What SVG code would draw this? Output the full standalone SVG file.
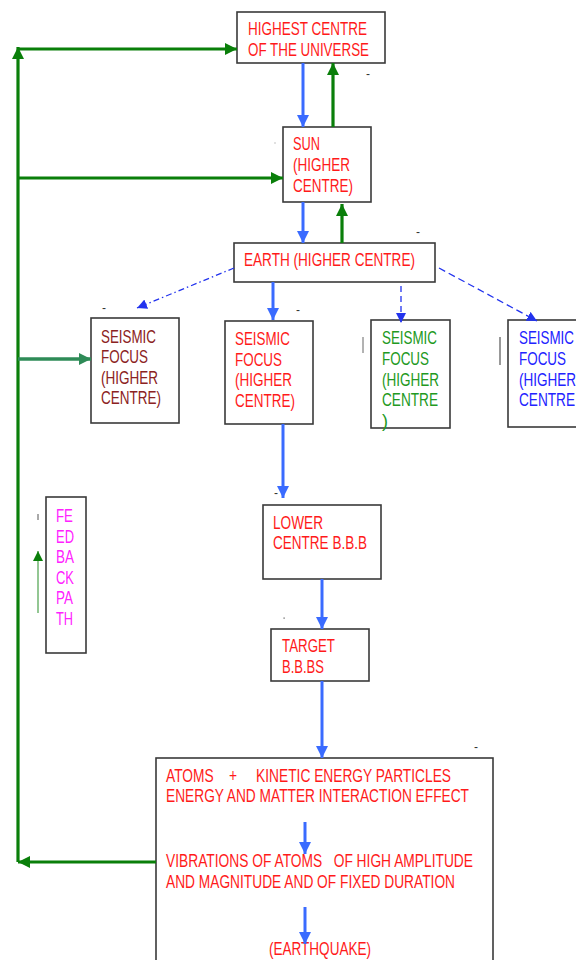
<svg xmlns="http://www.w3.org/2000/svg" width="576" height="960" viewBox="0 0 576 960">
<style>
.box{fill:#fff;stroke:#3a3a3a;stroke-width:1.6}
text{font-family:"Liberation Sans",Arial,sans-serif;font-size:18px;white-space:pre}
.red{fill:#ff1a1a}
.brown{fill:#8b2222}
.grn{fill:#229922}
.blu{fill:#2222ff}
.mag{fill:#ff22ff}
.mark{fill:#333;font-size:12px}
.gA{stroke:#0a7f0a;stroke-width:3.2;fill:none}
.bA{stroke:#3a6bff;stroke-width:3;fill:none}
.thinB{stroke:#2233ee;stroke-width:1.3;fill:none}
</style>
<defs>
<marker id="hg" markerUnits="userSpaceOnUse" viewBox="0 0 12 12" refX="12" refY="6" markerWidth="12" markerHeight="12" orient="auto"><path d="M0,0 L12,6 L0,12 z" fill="#0a7f0a"/></marker>
<marker id="hs" markerUnits="userSpaceOnUse" viewBox="0 0 12 12" refX="12" refY="6" markerWidth="12" markerHeight="12" orient="auto"><path d="M0,0 L12,6 L0,12 z" fill="#2e8b57"/></marker>
<marker id="hb" markerUnits="userSpaceOnUse" viewBox="0 0 12 12" refX="12" refY="6" markerWidth="12" markerHeight="12" orient="auto"><path d="M0,0 L12,6 L0,12 z" fill="#3a6bff"/></marker>
<marker id="ht" markerUnits="userSpaceOnUse" viewBox="0 0 10 10" refX="10" refY="5" markerWidth="10" markerHeight="10" orient="auto"><path d="M0,0 L10,5 L0,10 z" fill="#2233ee"/></marker>
<marker id="hf" markerUnits="userSpaceOnUse" viewBox="0 0 10 10" refX="10" refY="5" markerWidth="10" markerHeight="10" orient="auto"><path d="M0,0 L10,5 L0,10 z" fill="#0a7f0a"/></marker>
</defs>

<g id="highest">
<rect class="box" x="237" y="12" width="148" height="51"/>
<text class="red" x="248" y="35" textLength="119" lengthAdjust="spacingAndGlyphs">HIGHEST CENTRE</text>
<text class="red" x="248" y="56" textLength="121" lengthAdjust="spacingAndGlyphs">OF THE UNIVERSE</text>
</g>

<g id="sun">
<rect class="box" x="283" y="127" width="88" height="75"/>
<text class="red" x="293" y="150" textLength="27" lengthAdjust="spacingAndGlyphs">SUN</text>
<text class="red" x="293" y="171" textLength="57" lengthAdjust="spacingAndGlyphs">(HIGHER</text>
<text class="red" x="293" y="192" textLength="60" lengthAdjust="spacingAndGlyphs">CENTRE)</text>
</g>

<g id="earth">
<rect class="box" x="234" y="243" width="201" height="39"/>
<text class="red" x="244" y="266" textLength="171" lengthAdjust="spacingAndGlyphs">EARTH (HIGHER CENTRE)</text>
</g>

<g id="seismic1">
<rect class="box" x="91" y="318" width="88" height="105"/>
<text class="brown" x="101" y="343" textLength="55" lengthAdjust="spacingAndGlyphs">SEISMIC</text>
<text class="brown" x="101" y="363" textLength="47" lengthAdjust="spacingAndGlyphs">FOCUS</text>
<text class="brown" x="101" y="384" textLength="57" lengthAdjust="spacingAndGlyphs">(HIGHER</text>
<text class="brown" x="101" y="404" textLength="60" lengthAdjust="spacingAndGlyphs">CENTRE)</text>
</g>

<g id="seismic2">
<rect class="box" x="225" y="321" width="88" height="103"/>
<text class="red" x="235" y="345" textLength="55" lengthAdjust="spacingAndGlyphs">SEISMIC</text>
<text class="red" x="235" y="366" textLength="47" lengthAdjust="spacingAndGlyphs">FOCUS</text>
<text class="red" x="235" y="386" textLength="57" lengthAdjust="spacingAndGlyphs">(HIGHER</text>
<text class="red" x="235" y="407" textLength="60" lengthAdjust="spacingAndGlyphs">CENTRE)</text>
</g>

<g id="seismic3">
<rect class="box" x="371" y="320" width="79" height="108"/>
<text class="grn" x="382" y="344" textLength="55" lengthAdjust="spacingAndGlyphs">SEISMIC</text>
<text class="grn" x="382" y="365" textLength="47" lengthAdjust="spacingAndGlyphs">FOCUS</text>
<text class="grn" x="382" y="386" textLength="57" lengthAdjust="spacingAndGlyphs">(HIGHER</text>
<text class="grn" x="382" y="406" textLength="56" lengthAdjust="spacingAndGlyphs">CENTRE</text>
<text class="grn" x="382" y="427">)</text>
</g>

<g id="seismic4">
<rect class="box" x="508" y="320" width="90" height="107"/>
<text class="blu" x="519" y="344" textLength="55" lengthAdjust="spacingAndGlyphs">SEISMIC</text>
<text class="blu" x="519" y="365" textLength="47" lengthAdjust="spacingAndGlyphs">FOCUS</text>
<text class="blu" x="519" y="386" textLength="57" lengthAdjust="spacingAndGlyphs">(HIGHER</text>
<text class="blu" x="519" y="406" textLength="56" lengthAdjust="spacingAndGlyphs">CENTRE</text>
</g>

<g id="feedback">
<rect class="box" x="46" y="497" width="40" height="156"/>
<text class="mag" x="56" y="522" textLength="17" lengthAdjust="spacingAndGlyphs">FE</text>
<text class="mag" x="56" y="543" textLength="18" lengthAdjust="spacingAndGlyphs">ED</text>
<text class="mag" x="56" y="563" textLength="18" lengthAdjust="spacingAndGlyphs">BA</text>
<text class="mag" x="56" y="584" textLength="18" lengthAdjust="spacingAndGlyphs">CK</text>
<text class="mag" x="56" y="604" textLength="17" lengthAdjust="spacingAndGlyphs">PA</text>
<text class="mag" x="56" y="625" textLength="17" lengthAdjust="spacingAndGlyphs">TH</text>
</g>

<g id="lower">
<rect class="box" x="263" y="505" width="118" height="74"/>
<text class="red" x="273" y="529" textLength="50" lengthAdjust="spacingAndGlyphs">LOWER</text>
<text class="red" x="273" y="549" textLength="94" lengthAdjust="spacingAndGlyphs">CENTRE B.B.B</text>
</g>

<g id="target">
<rect class="box" x="271" y="629" width="98" height="52"/>
<text class="red" x="282" y="652" textLength="53" lengthAdjust="spacingAndGlyphs">TARGET</text>
<text class="red" x="282" y="673" textLength="42" lengthAdjust="spacingAndGlyphs">B.B.BS</text>
</g>

<g id="atoms">
<rect class="box" x="156" y="758" width="337" height="215"/>
<text class="red" x="166" y="782" textLength="285" lengthAdjust="spacingAndGlyphs">ATOMS    +     KINETIC ENERGY PARTICLES</text>
<text class="red" x="166" y="802" textLength="303" lengthAdjust="spacingAndGlyphs">ENERGY AND MATTER INTERACTION EFFECT</text>
<text class="red" x="166" y="867" textLength="307" lengthAdjust="spacingAndGlyphs">VIBRATIONS OF ATOMS   OF HIGH AMPLITUDE</text>
<text class="red" x="166" y="888" textLength="289" lengthAdjust="spacingAndGlyphs">AND MAGNITUDE AND OF FIXED DURATION</text>
<text class="red" x="269" y="955" textLength="102" lengthAdjust="spacingAndGlyphs">(EARTHQUAKE)</text>
</g>

<g id="connectors">
<path class="gA" d="M156,862 L18,862" marker-end="url(#hg)"/>
<path class="gA" d="M18,862 L18,47" marker-end="url(#hg)"/>
<path class="gA" d="M18,49 L237,49" marker-end="url(#hg)"/>
<path class="gA" d="M18,178 L283,178" marker-end="url(#hg)"/>
<path d="M18,359 L91,359" stroke="#2e8b57" stroke-width="3.6" fill="none" marker-end="url(#hs)"/>
<path class="bA" d="M303,63 L303,127" marker-end="url(#hb)"/>
<path class="gA" d="M333,127 L333,63" marker-end="url(#hg)"/>
<path class="bA" d="M303,202 L303,243" marker-end="url(#hb)"/>
<path class="gA" d="M342,243 L342,204" marker-end="url(#hg)"/>
<path class="bA" d="M273,282 L273,320" marker-end="url(#hb)"/>
<path class="thinB" d="M234,268 L137,308" stroke-dasharray="6 3 1.5 3" marker-end="url(#ht)"/>
<path class="thinB" d="M401,286 L401,323" stroke-dasharray="6 4" marker-end="url(#ht)"/>
<path class="thinB" d="M439,268 L537,321" stroke-dasharray="7 4" marker-end="url(#ht)"/>
<path class="bA" d="M283,424 L283,498" marker-end="url(#hb)"/>
<path class="bA" d="M322,579 L322,629" marker-end="url(#hb)"/>
<path class="bA" d="M322,681 L322,758" marker-end="url(#hb)"/>
<path class="bA" d="M305,822 L305,854" stroke-width="2.6" marker-end="url(#hb)"/>
<path class="bA" d="M305,907 L305,944" stroke-width="2.6" marker-end="url(#hb)"/>
<path d="M38,613 L38,551" stroke="#6fb56f" stroke-width="1.5" fill="none" marker-end="url(#hf)"/>
</g>

<g id="marks">
<text class="mark" x="366" y="78">-</text>
<text class="mark" x="416" y="236">-</text>
<text class="mark" x="102" y="312">-</text>
<text class="mark" x="296" y="314">-</text>
<text class="mark" x="474" y="751">-</text>
<text class="mark" x="274" y="497">-</text>
<line x1="363" y1="337" x2="363" y2="353" stroke="#666" stroke-width="1"/>
<line x1="500" y1="337" x2="500" y2="365" stroke="#555" stroke-width="1.2"/>
<line x1="38" y1="514" x2="38" y2="520" stroke="#555" stroke-width="1"/>
<rect x="274.5" y="142.5" width="1" height="1" fill="#888"/>
<rect x="283.5" y="617.5" width="1.2" height="1.2" fill="#555"/>
</g>
</svg>
